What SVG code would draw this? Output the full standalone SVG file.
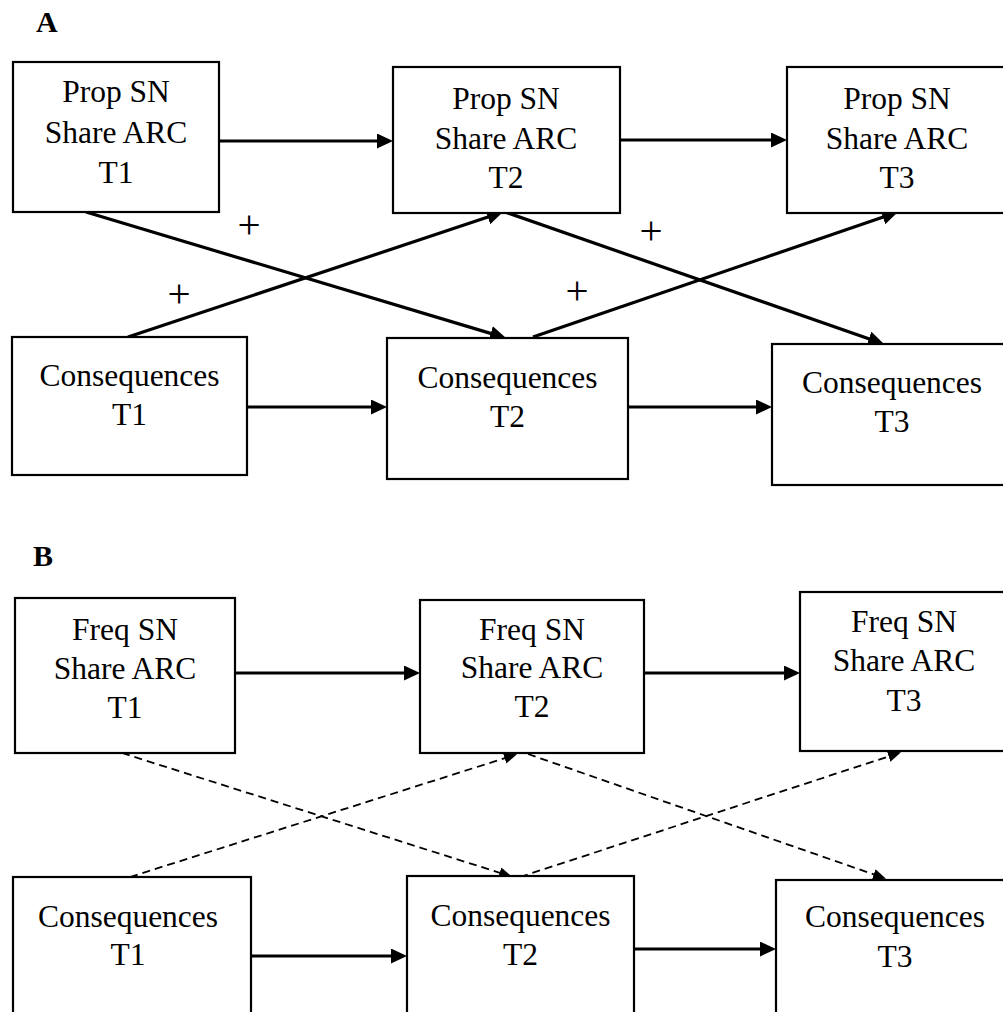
<svg xmlns="http://www.w3.org/2000/svg" width="1003" height="1012" viewBox="0 0 1003 1012">
  <defs>
    <marker id="head" markerUnits="userSpaceOnUse" markerWidth="17" markerHeight="16" refX="12" refY="7.5" orient="auto">
      <path d="M0,0 L16,7.5 L0,15 z" fill="#000"/>
    </marker>
    <marker id="headSmall" markerUnits="userSpaceOnUse" markerWidth="14" markerHeight="12" refX="10" refY="5.5" orient="auto">
      <path d="M0,0 L13,5.5 L0,11 z" fill="#000"/>
    </marker>
  </defs>
  <style>
    .box { fill: #fff; stroke: #000; stroke-width: 2.2; }
    .lbl { font-family: "Liberation Serif", "Times New Roman", serif; font-size: 31.5px; fill: #000; text-anchor: middle; }
    .panel { font-family: "Liberation Serif", "Times New Roman", serif; font-size: 30px; font-weight: bold; fill: #000; }
    .sign { font-family: "Liberation Serif", "Times New Roman", serif; font-size: 41px; fill: #000; text-anchor: middle; }
    .solid { fill: none; stroke: #000; stroke-width: 3.2; marker-end: url(#head); }
    .dash { fill: none; stroke: #000; stroke-width: 1.8; stroke-dasharray: 8 5; marker-end: url(#headSmall); }
  </style>
  <rect width="1003" height="1012" fill="#fff"/>

  <!-- panel letters -->
  <text class="panel" x="36" y="32">A</text>
  <text class="panel" x="33" y="566">B</text>

  <!-- connectors -->
  <g id="connectors">
    <!-- panel A: autoregressive paths -->
    <path class="solid" d="M219,141 H389"/>
    <path class="solid" d="M620,140 H783"/>
    <path class="solid" d="M247,407 H383"/>
    <path class="solid" d="M628,407 H768"/>
    <!-- panel A: cross-lagged paths -->
    <path class="solid" d="M86,212 L502.2,336.9"/>
    <path class="solid" d="M128,337 L499.2,213.3"/>
    <path class="solid" d="M505,212 L880.2,342.7"/>
    <path class="solid" d="M533,337 L894.2,213.3"/>
    <!-- panel B: autoregressive paths -->
    <path class="solid" d="M235,673 H416"/>
    <path class="solid" d="M644,673 H796"/>
    <path class="solid" d="M251,956 H403"/>
    <path class="solid" d="M634,949 H772"/>
    <!-- panel B: cross-lagged paths (dashed) -->
    <path class="dash" d="M122,753 L509.2,875.8"/>
    <path class="dash" d="M130,877 L514.2,755.2"/>
    <path class="dash" d="M528,754 L883.2,877.7"/>
    <path class="dash" d="M520,877 L898.2,753.3"/>
  </g>

  <!-- signs on cross-lagged paths -->
  <g id="signs">
    <text class="sign" x="249" y="237.5">+</text>
    <text class="sign" x="179" y="306.5">+</text>
    <text class="sign" x="651" y="243.5">+</text>
    <text class="sign" x="577" y="303.5">+</text>
  </g>

  <!-- panel A nodes -->
  <g id="a-prop-t1">
    <rect class="box" x="13" y="62" width="206" height="150"/>
    <text class="lbl" x="116" y="102">Prop SN</text>
    <text class="lbl" x="116" y="143">Share ARC</text>
    <text class="lbl" x="116" y="183">T1</text>
  </g>
  <g id="a-prop-t2">
    <rect class="box" x="393" y="67" width="227" height="146"/>
    <text class="lbl" x="506" y="109">Prop SN</text>
    <text class="lbl" x="506" y="149">Share ARC</text>
    <text class="lbl" x="506" y="188">T2</text>
  </g>
  <g id="a-prop-t3">
    <rect class="box" x="787" y="67" width="222" height="146"/>
    <text class="lbl" x="897" y="109">Prop SN</text>
    <text class="lbl" x="897" y="149">Share ARC</text>
    <text class="lbl" x="897" y="188">T3</text>
  </g>
  <g id="a-cons-t1">
    <rect class="box" x="12" y="337" width="235" height="138"/>
    <text class="lbl" x="129.5" y="386">Consequences</text>
    <text class="lbl" x="129.5" y="425">T1</text>
  </g>
  <g id="a-cons-t2">
    <rect class="box" x="387" y="338" width="241" height="141"/>
    <text class="lbl" x="507.5" y="388">Consequences</text>
    <text class="lbl" x="507.5" y="427">T2</text>
  </g>
  <g id="a-cons-t3">
    <rect class="box" x="772" y="344" width="240" height="141"/>
    <text class="lbl" x="892" y="393">Consequences</text>
    <text class="lbl" x="892" y="432">T3</text>
  </g>

  <!-- panel B nodes -->
  <g id="b-freq-t1">
    <rect class="box" x="15" y="598" width="220" height="155"/>
    <text class="lbl" x="125" y="640">Freq SN</text>
    <text class="lbl" x="125" y="679">Share ARC</text>
    <text class="lbl" x="125" y="718">T1</text>
  </g>
  <g id="b-freq-t2">
    <rect class="box" x="420" y="600" width="224" height="153"/>
    <text class="lbl" x="532" y="640">Freq SN</text>
    <text class="lbl" x="532" y="678">Share ARC</text>
    <text class="lbl" x="532" y="717">T2</text>
  </g>
  <g id="b-freq-t3">
    <rect class="box" x="800" y="592" width="208" height="159"/>
    <text class="lbl" x="904" y="632">Freq SN</text>
    <text class="lbl" x="904" y="671">Share ARC</text>
    <text class="lbl" x="904" y="711">T3</text>
  </g>
  <g id="b-cons-t1">
    <rect class="box" x="13" y="877" width="238" height="150"/>
    <text class="lbl" x="128" y="927">Consequences</text>
    <text class="lbl" x="128" y="965">T1</text>
  </g>
  <g id="b-cons-t2">
    <rect class="box" x="407" y="876" width="227" height="150"/>
    <text class="lbl" x="520.5" y="926">Consequences</text>
    <text class="lbl" x="520.5" y="965">T2</text>
  </g>
  <g id="b-cons-t3">
    <rect class="box" x="776" y="880" width="238" height="150"/>
    <text class="lbl" x="895" y="927">Consequences</text>
    <text class="lbl" x="895" y="967">T3</text>
  </g>
</svg>
